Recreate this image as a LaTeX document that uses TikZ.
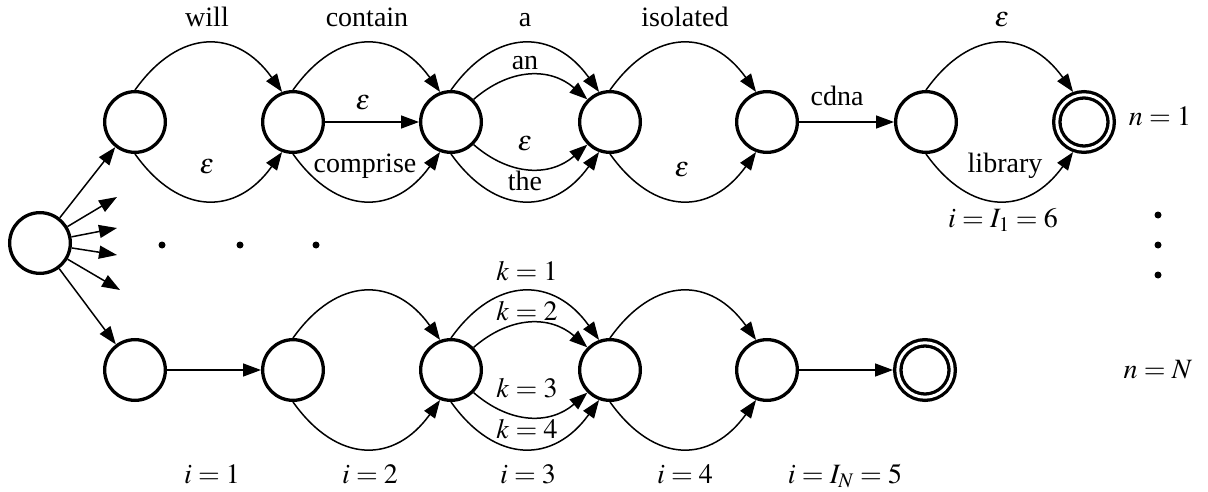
\documentclass[tikz,border=0pt]{standalone}
\usepackage{mathptmx}
\usepackage{fontspec}
\setmainfont{Liberation Serif}
\usetikzlibrary{arrows.meta}
\begin{document}
\begin{tikzpicture}[x=1pt,y=-1pt,
  st/.style={circle,draw,line width=3.3pt,minimum size=60.7pt,inner sep=0pt},
  fin/.style={circle,draw,line width=3.3pt,double,double distance=3pt,minimum size=54.4pt,inner sep=0pt,outer sep=4.8pt},
  edge/.style={line width=1.5pt,-{Triangle[length=18pt,width=13pt]}},
  lab/.style={anchor=base,inner sep=0pt,font=\fontsize{28}{33}\selectfont},
  ]
\useasboundingbox (0,0) rectangle (1208,492);
% nodes
\node[st] (s) at (40,243) {};
\node[st] (t1) at (135,122) {};
\node[st] (t2) at (293,122) {};
\node[st] (t3) at (451,122) {};
\node[st] (t4) at (610,122) {};
\node[st] (t5) at (767,122) {};
\node[st] (t6) at (926,122) {};
\node[fin] (t7) at (1084,122) {};
\node[st] (b1) at (135,370) {};
\node[st] (b2) at (293,370) {};
\node[st] (b3) at (451,370) {};
\node[st] (b4) at (610,370) {};
\node[st] (b5) at (767,370) {};
\node[fin] (b6) at (925,370) {};
% free ends from start
\coordinate (c1) at (117,197);
\coordinate (c2) at (117,228);
\coordinate (c3) at (117,255);
\coordinate (c4) at (120,290);
\draw[edge] (s) -- (t1);
\draw[edge] (s) -- (b1);
\draw[edge] (s) -- (c1);
\draw[edge] (s) -- (c2);
\draw[edge] (s) -- (c3);
\draw[edge] (s) -- (c4);
% top row
\draw[edge] (t1.90) .. controls +(45,-63) and +(-45,-63) .. (t2.110);
\draw[edge] (t1.-90) .. controls +(45,63) and +(-45,63) .. (t2.-110);
\draw[edge] (t2.90) .. controls +(45,-63) and +(-45,-63) .. (t3.110);
\draw[edge] (t2) -- (t3);
\draw[edge] (t2.-90) .. controls +(45,63) and +(-45,63) .. (t3.-110);
\draw[edge] (t3.90) .. controls +(45,-63) and +(-45,-63) .. (t4.110);
\draw[edge] (t3.45) .. controls +(37,-32) and +(-37,-32) .. (t4.135);
\draw[edge] (t3.-45) .. controls +(37,32) and +(-37,32) .. (t4.-135);
\draw[edge] (t3.-90) .. controls +(45,63) and +(-45,63) .. (t4.-110);
\draw[edge] (t4.90) .. controls +(45,-63) and +(-45,-63) .. (t5.110);
\draw[edge] (t4.-90) .. controls +(45,63) and +(-45,63) .. (t5.-110);
\draw[edge] (t5) -- (t6);
\draw[edge] (t6.90) .. controls +(45,-63) and +(-45,-63) .. (t7.110);
\draw[edge] (t6.-90) .. controls +(45,63) and +(-45,63) .. (t7.-110);
% bottom row
\draw[edge] (b1) -- (b2);
\draw[edge] (b2.90) .. controls +(45,-63) and +(-45,-63) .. (b3.110);
\draw[edge] (b2.-90) .. controls +(45,63) and +(-45,63) .. (b3.-110);
\draw[edge] (b3.90) .. controls +(45,-63) and +(-45,-63) .. (b4.110);
\draw[edge] (b3.45) .. controls +(37,-32) and +(-37,-32) .. (b4.135);
\draw[edge] (b3.-45) .. controls +(37,32) and +(-37,32) .. (b4.-135);
\draw[edge] (b3.-90) .. controls +(45,63) and +(-45,63) .. (b4.-110);
\draw[edge] (b4.90) .. controls +(45,-63) and +(-45,-63) .. (b5.110);
\draw[edge] (b4.-90) .. controls +(45,63) and +(-45,63) .. (b5.-110);
\draw[edge] (b5) -- (b6);
% labels top
\node[lab] (lwill) at (207,27) {will};
\node[lab] (leps1) at (207,174) {$\varepsilon$};
\node[lab] (lcontain) at (367,27) {contain};
\node[lab] (leps2) at (363,110) {$\varepsilon$};
\node[lab] (lcomprise) at (365,172) {comprise};
\node[lab] (la) at (525,27) {a};
\node[lab] (lan) at (525,70) {an};
\node[lab] (leps3) at (525,150) {$\varepsilon$};
\node[lab] (lthe) at (525,190) {the};
\node[lab] (lisolated) at (685,27) {isolated};
\node[lab] (leps4) at (682,177) {$\varepsilon$};
\node[lab] (lcdna) at (837,106) {cdna};
\node[lab] (leps5) at (1002,27) {$\varepsilon$};
\node[lab] (llibrary) at (1005,173) {library};
\node[lab] (ln1) at (1160,126) {$n=1$};
\node[lab] (lI1) at (1003,227) {$i=I_1=6$};
% labels bottom
\node[lab] (lk1) at (527,280) {$k=1$};
\node[lab] (lk2) at (527,320) {$k=2$};
\node[lab] (lk3) at (527,397) {$k=3$};
\node[lab] (lk4) at (527,438) {$k=4$};
\node[lab] (li1) at (212,483) {$i=1$};
\node[lab] (li2) at (370,483) {$i=2$};
\node[lab] (li3) at (528,483) {$i=3$};
\node[lab] (li4) at (685,483) {$i=4$};
\node[lab] (li5) at (845,483) {$i=I_N=5$};
\node[lab] (lnN) at (1158,378) {$n=N$};
% dots
\fill (162,245) circle (3.5);
\fill (240,245) circle (3.5);
\fill (316,245) circle (3.5);
\fill (1158,215) circle (3.5);
\fill (1158,245) circle (3.5);
\fill (1158,275) circle (3.5);
\end{tikzpicture}
\end{document}
